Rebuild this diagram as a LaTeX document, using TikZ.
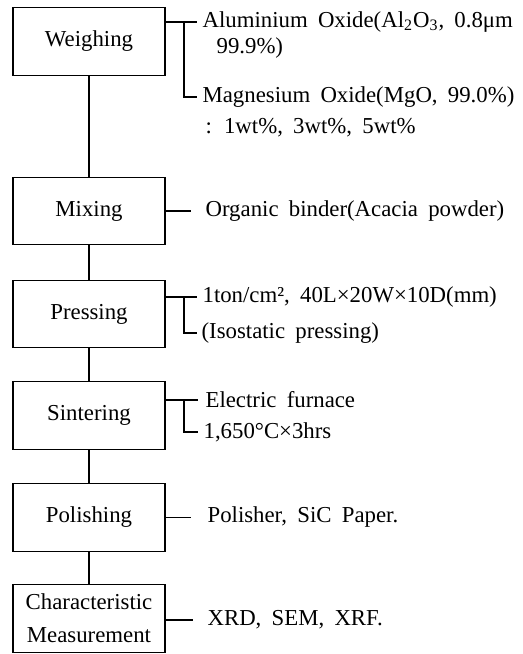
\documentclass[tikz,border=0pt]{standalone}
\usepackage{fontspec}
\setmainfont{Liberation Serif}[WordSpace=1.8]
\begin{document}
\begin{tikzpicture}[x=0.5pt,y=-0.5pt,every node/.style={font=\fontsize{11.4}{16.5}\selectfont},line width=0.6pt]
\tikzset{stage/.style={draw,align=center,minimum width=76pt,minimum height=33.75pt,inner sep=1pt}, note/.style={anchor=west,inner sep=1pt}}
\useasboundingbox (0,0) rectangle (523,654);
% process steps
\node[stage] (weigh) at (89,41.5) {Weighing};
\node[stage] (mix) at (89,211) {Mixing};
\node[stage] (press) at (89,314) {Pressing};
\node[stage] (sinter) at (89,415.5) {Sintering};
\node[stage] (polish) at (89,517.5) {Polishing};
\node[stage] (meas) at (89,618.5) {Characteristic\\Measurement};
\draw (weigh) -- (mix);
\draw (mix) -- (press);
\draw (press) -- (sinter);
\draw (sinter) -- (polish);
\draw (polish) -- (meas);
% conditions
\node[note] (al) at (200,22) {Aluminium Oxide(Al\textsubscript{2}O\textsubscript{3}, 0.8μm};
\node[note] (alp) at (214,48) {99.9\%)};
\node[note] (mg) at (200,97) {Magnesium Oxide(MgO, 99.0\%)};
\node[note] (mgw) at (203,128) {: 1wt\%, 3wt\%, 5wt\%};
\coordinate (wbr) at (184,22);
\draw (weigh.east |- al.west) -- ([xshift=-1.5pt]al.west);
\draw (wbr) |- ([xshift=-1.5pt]mg.west);
\node[note] (bind) at (203,211) {Organic binder(Acacia powder)};
\draw (mix.east) -- ([xshift=-6pt]bind.west);
\node[note] (load) at (200,297) {1ton/cm², 40L×20W×10D(mm)};
\node[note] (iso) at (199,333) {(Isostatic pressing)};
\coordinate (pbr) at (184,297);
\draw (press.east |- load.west) -- ([xshift=-1.5pt]load.west);
\draw (pbr) |- ([xshift=-1pt]iso.west);
\node[note] (furn) at (203,400) {Electric furnace};
\node[note] (temp) at (201,432) {1,650°C×3hrs};
\coordinate (sbr) at (184,400);
\draw (sinter.east |- furn.west) -- ([xshift=-2.5pt]furn.west);
\draw (sbr) |- ([xshift=-1.5pt]temp.west);
\node[note] (paper) at (205,517.5) {Polisher, SiC Paper.};
\draw (polish.east) -- ([xshift=-7pt]paper.west);
\node[note] (xrd) at (205,620) {XRD, SEM, XRF.};
\draw (meas.east |- xrd.west) -- ([xshift=-6pt]xrd.west);
\end{tikzpicture}
\end{document}
